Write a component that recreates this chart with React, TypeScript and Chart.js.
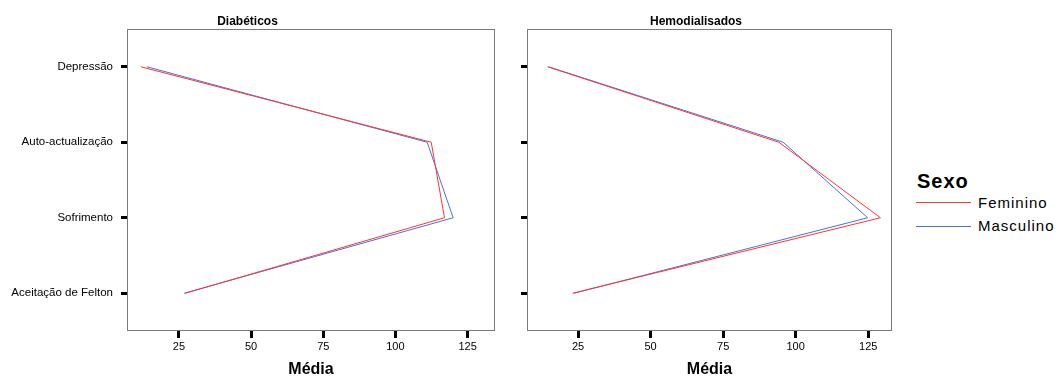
import React, { useEffect, useRef } from "react";
import { Chart, registerables } from "chart.js";

Chart.register(...registerables);

// ---- data ----
const categories = ["Depressão", "Auto-actualização", "Sofrimento", "Aceitação de Felton"];
const diabFeminino = [11.8, 112.4, 117.0, 27.2];
const diabMasculino = [13.9, 111.0, 120.0, 26.8];
const hemoFeminino = [14.5, 94.2, 129.2, 23.1];
const hemoMasculino = [14.8, 95.7, 124.8, 23.6];
const xTicks = [25, 50, 75, 100, 125];
const seriesNames = ["Feminino", "Masculino"];
const panelTitles = ["Diabéticos", "Hemodialisados"];
const axisTitle = "Média";
const legendTitle = "Sexo";

const FONT = '"Liberation Sans", Arial, Helvetica, sans-serif';
const RED = "#ff3434";
const BLUE = "#4a72d8";
const CANVAS_H = 384;

const framePlugin = {
  id: "frame",
  afterDraw(chart: any) {
    const { ctx, chartArea: a } = chart;
    ctx.save();
    ctx.strokeStyle = "#7a7a7a";
    ctx.lineWidth = 1;
    ctx.strokeRect(a.left + 0.5, a.top + 0.5, a.right - a.left - 1, a.bottom - a.top - 1);
    ctx.restore();
  },
};

function makeConfig(p: {
  fem: number[];
  masc: number[];
  title: string;
  showYLabels: boolean;
  yWidth: number;
  padRight: number;
  xMin: number;
  xMax: number;
}): any {
  return {
    type: "line",
    data: {
      labels: categories,
      datasets: [
        { label: seriesNames[0], data: p.fem, borderColor: RED, backgroundColor: RED, borderWidth: 1, pointRadius: 0, fill: false, tension: 0 },
        { label: seriesNames[1], data: p.masc, borderColor: BLUE, backgroundColor: BLUE, borderWidth: 1, pointRadius: 0, fill: false, tension: 0 },
      ],
    },
    options: {
      indexAxis: "y",
      animation: false,
      responsive: false,
      maintainAspectRatio: false,
      events: [],
      layout: { padding: { left: 0, right: p.padRight, top: 0, bottom: 0 } },
      plugins: {
        legend: { display: false },
        tooltip: { enabled: false },
        title: {
          display: true,
          text: p.title,
          color: "#000",
          font: { family: FONT, size: 12, weight: "bold", lineHeight: 1 },
          padding: { top: 16, bottom: 1 },
        },
      },
      scales: {
        x: {
          type: "linear",
          min: p.xMin,
          max: p.xMax,
          afterBuildTicks: (s: any) => {
            s.ticks = xTicks.map((v) => ({ value: v }));
          },
          afterFit: (s: any) => {
            s.height = CANVAS_H - 331;
          },
          ticks: { color: "#000", font: { family: FONT, size: 11 }, padding: 2, maxRotation: 0, autoSkip: false },
          grid: { drawOnChartArea: false, drawTicks: true, tickLength: 7, tickWidth: 3, tickColor: "#000", offset: false },
          border: { display: false },
          title: {
            display: true,
            text: axisTitle,
            color: "#000",
            font: { family: FONT, size: 16, weight: "bold", lineHeight: 1 },
            padding: { top: 0, bottom: 6 },
          },
        },
        y: {
          type: "category",
          offset: true,
          afterFit: (s: any) => {
            s.width = p.yWidth;
          },
          ticks: { display: p.showYLabels, color: "#000", font: { family: FONT, size: 11.5 }, padding: 8, autoSkip: false },
          grid: { drawOnChartArea: false, drawTicks: true, tickLength: 6, tickWidth: 3, tickColor: "#000", offset: false },
          border: { display: false },
        },
      },
    },
    plugins: [framePlugin],
  };
}

export default function App() {
  const leftRef = useRef<HTMLCanvasElement>(null);
  const rightRef = useRef<HTMLCanvasElement>(null);

  useEffect(() => {
    const c1 = new Chart(
      leftRef.current as HTMLCanvasElement,
      makeConfig({ fem: diabFeminino, masc: diabMasculino, title: panelTitles[0], showYLabels: true, yWidth: 127, padRight: 109, xMin: 7, xMax: 134.5 })
    );
    const c2 = new Chart(
      rightRef.current as HTMLCanvasElement,
      makeConfig({ fem: hemoFeminino, masc: hemoMasculino, title: panelTitles[1], showYLabels: false, yWidth: 27, padRight: 4, xMin: 7.4, xMax: 133.2 })
    );
    return () => {
      c1.destroy();
      c2.destroy();
    };
  }, []);

  return (
    <div style={{ position: "absolute", left: 0, top: 0, width: 1056, height: 377, overflow: "hidden", background: "#fff", fontFamily: FONT }}>
      <canvas ref={leftRef} width={604} height={CANVAS_H} style={{ position: "absolute", left: 0, top: 0 }} />
      <canvas ref={rightRef} width={396} height={CANVAS_H} style={{ position: "absolute", left: 500, top: 0 }} />
      <div style={{ position: "absolute", left: 917, top: 171, fontSize: 20, fontWeight: "bold", lineHeight: "20px", letterSpacing: 1, color: "#000", whiteSpace: "nowrap" }}>
        {legendTitle}
      </div>
      <div style={{ position: "absolute", left: 916, top: 202, width: 55, height: 1, background: RED }} />
      <div style={{ position: "absolute", left: 916, top: 226, width: 55, height: 1, background: BLUE }} />
      <div style={{ position: "absolute", left: 978, top: 195, fontSize: 15, lineHeight: "15px", letterSpacing: 1, color: "#000", whiteSpace: "nowrap" }}>
        {seriesNames[0]}
      </div>
      <div style={{ position: "absolute", left: 978, top: 218, fontSize: 15, lineHeight: "15px", letterSpacing: 1, color: "#000", whiteSpace: "nowrap" }}>
        {seriesNames[1]}
      </div>
    </div>
  );
}
